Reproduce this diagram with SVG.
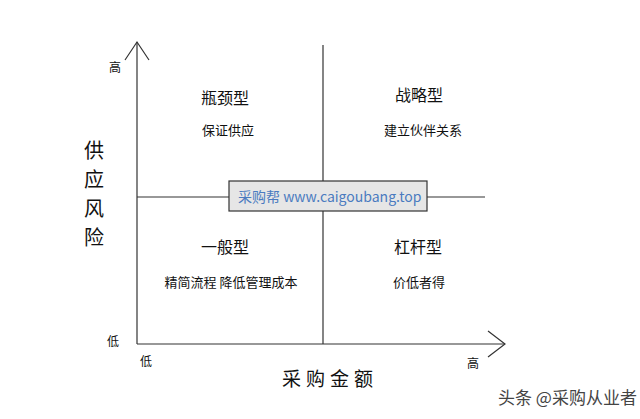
<svg xmlns="http://www.w3.org/2000/svg" width="640" height="419" viewBox="0 0 640 419">
<style>
text{font-family:"Noto Sans CJK SC","Liberation Sans",sans-serif;fill:#111}
.t{font-size:16px;text-anchor:middle}
.s{font-size:13px;text-anchor:middle}
.a{font-size:12px}
.y{font-size:20px;text-anchor:middle}
line,polyline{stroke:#333;stroke-width:1.2;fill:none}
</style>
<rect width="640" height="419" fill="#fff"/>
<g id="connectors">
<line x1="137" y1="344" x2="137" y2="42"/>
<polyline points="125,60 137,42 149,60"/>
<line x1="137" y1="344" x2="505" y2="344"/>
<polyline points="488,331 505,344 488,357"/>
<line x1="323" y1="45" x2="323" y2="344"/>
<line x1="137" y1="197" x2="485" y2="197"/>
</g>
<g id="q1"><text class="t" x="225" y="104">瓶颈型</text><text class="s" x="228" y="135">保证供应</text></g>
<g id="q2"><text class="t" x="419" y="101">战略型</text><text class="s" x="423" y="135">建立伙伴关系</text></g>
<g id="q3"><text class="t" x="225" y="253">一般型</text><text class="s" x="231" y="287">精简流程 降低管理成本</text></g>
<g id="q4"><text class="t" x="418" y="253">杠杆型</text><text class="s" x="419" y="287">价低者得</text></g>
<g id="center"><rect x="229" y="181" width="198" height="30" fill="#e6e6e6" stroke="#333" stroke-width="1.2"/>
<text x="238" y="202" style="font-size:14px;fill:#4a7bc0">采购帮 www.caigoubang.top</text></g>
<g id="labels">
<text class="a" x="109" y="72">高</text>
<text class="a" x="107" y="346">低</text>
<text class="a" x="140" y="366">低</text>
<text class="a" x="467" y="368">高</text>
<text class="y" x="94" y="158">供</text>
<text class="y" x="94" y="187">应</text>
<text class="y" x="94" y="216">风</text>
<text class="y" x="94" y="245">险</text>
<text x="330" y="386" style="font-size:19px;letter-spacing:5px;text-anchor:middle">采购金额</text>
<text x="498" y="404" style="font-size:17px;fill:#444">头条 @采购从业者</text>
</g>
</svg>
